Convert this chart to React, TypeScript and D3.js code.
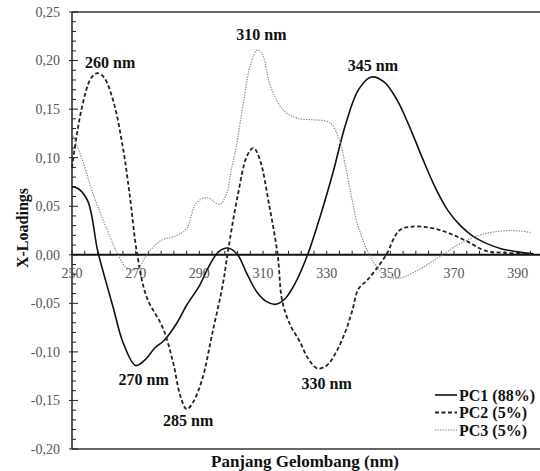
import React from "react";
import * as d3 from "d3";

const W = 540, H = 471;
const M = { left: 72, top: 12, right: 540, bottom: 449 };

const xDomain = [250, 397];
const yDomain = [-0.2, 0.25];

const xTickLabels = [250, 270, 290, 310, 330, 350, 370, 390];
const yTickLabels = [-0.2, -0.15, -0.1, -0.05, 0, 0.05, 0.1, 0.15, 0.2, 0.25];

const pc1Nm = [250, 252, 255, 258, 260, 263, 266, 270, 273, 276, 279, 283, 286, 290, 293, 296, 299, 302, 305, 308, 311, 314, 317, 320, 324, 328, 332, 336, 340, 344, 348, 352, 356, 360, 364, 368, 372, 376, 380, 385, 390, 395];
const pc1Val = [0.070, 0.068, 0.055, 0.005, -0.020, -0.055, -0.090, -0.114, -0.108, -0.096, -0.088, -0.070, -0.052, -0.032, -0.012, 0.003, 0.007, 0.000, -0.020, -0.038, -0.048, -0.051, -0.045, -0.030, 0.000, 0.040, 0.085, 0.135, 0.170, 0.183, 0.178, 0.160, 0.132, 0.100, 0.070, 0.046, 0.030, 0.019, 0.012, 0.006, 0.003, 0.001];

const pc2Nm = [250, 253, 256, 258, 260, 263, 266, 268, 270.5, 273.5, 278.5, 281.7, 284, 286, 288, 291, 294, 297.4, 299, 302, 305, 307, 309, 312, 314.6, 316, 318.5, 321.5, 324, 327, 330, 333, 336, 338, 340, 342.5, 345.5, 348.7, 352.8, 357, 362, 366, 370, 374, 380, 386, 394];
const pc2Val = [0.090, 0.150, 0.182, 0.187, 0.183, 0.158, 0.110, 0.065, 0.000, -0.044, -0.075, -0.110, -0.145, -0.159, -0.152, -0.127, -0.082, -0.030, 0.004, 0.060, 0.102, 0.110, 0.098, 0.050, 0.000, -0.047, -0.072, -0.089, -0.106, -0.117, -0.114, -0.100, -0.078, -0.058, -0.035, -0.027, -0.015, 0.000, 0.025, 0.029, 0.028, 0.025, 0.020, 0.014, 0.004, 0.002, 0.001];

const pc3Nm = [250, 253, 256.6, 262, 264.5, 267, 270.4, 273.5, 277.6, 283, 286, 289, 292.3, 296.4, 298.6, 300, 301.5, 304, 306, 308.3, 310, 312, 315, 317.4, 321.5, 326, 331, 334, 336, 338, 340, 344.4, 348.7, 352.8, 358, 365, 371.6, 378.8, 388, 394];
const pc3Val = [0.125, 0.100, 0.063, 0.018, 0.000, -0.013, -0.015, 0.000, 0.014, 0.020, 0.027, 0.053, 0.059, 0.052, 0.063, 0.087, 0.110, 0.160, 0.195, 0.211, 0.205, 0.177, 0.155, 0.146, 0.140, 0.139, 0.136, 0.118, 0.090, 0.056, 0.028, -0.006, -0.022, -0.024, -0.017, -0.003, 0.011, 0.021, 0.025, 0.023];

const seriesNames = ["PC1 (88%)", "PC2 (5%)", "PC3 (5%)"];

const peakLabels = ["260 nm", "310 nm", "345 nm", "270 nm", "285 nm", "330 nm"];
const peakNm = [262, 309.5, 344.5, 272.5, 286.5, 330];
const peakVal = [0.198, 0.227, 0.195, -0.128, -0.171, -0.132];

const FONT = "'Liberation Serif', 'Times New Roman', serif";

export default function App() {
  const x = d3.scaleLinear().domain(xDomain).range([M.left, M.right]);
  const y = d3.scaleLinear().domain(yDomain).range([M.bottom, M.top]);
  const line = d3
    .line<[number, number]>()
    .x((d) => x(d[0]))
    .y((d) => y(d[1]))
    .curve(d3.curveCatmullRom.alpha(0.5));

  const toPts = (a: number[], b: number[]) => a.map((v, i) => [v, b[i]] as [number, number]);

  const series = [
    { pts: toPts(pc1Nm, pc1Val), stroke: "#111", width: 1.6, dash: "none" },
    { pts: toPts(pc2Nm, pc2Val), stroke: "#222", width: 1.8, dash: "4,2.5" },
    { pts: toPts(pc3Nm, pc3Val), stroke: "#888", width: 1.2, dash: "1.3,1.3" },
  ];

  const xMinor = d3.range(250, 397, 4);
  const yMinor = d3.range(-20, 26, 1).map((v) => v / 100);
  const y0 = y(0);

  return (
    <svg width={W} height={H} style={{ position: "absolute", left: 0, top: 0, background: "#fff" }}>
      <line x1={M.left} x2={M.right} y1={M.top} y2={M.top} stroke="#666" strokeWidth={2} />
      <line x1={M.left} x2={M.right} y1={M.bottom} y2={M.bottom} stroke="#666" strokeWidth={2} />
      <line x1={M.left} x2={M.left} y1={M.top} y2={M.bottom} stroke="#222" strokeWidth={1.5} />

      {yMinor.map((v, i) => {
        const major = Math.round(v * 100) % 5 === 0;
        return (
          <line key={"ym" + i} x1={major ? M.left - 3 : M.left} x2={M.left + (major ? 6 : 4)} y1={y(v)} y2={y(v)} stroke="#222" strokeWidth={1} />
        );
      })}
      {yTickLabels.map((v, i) => (
        <text key={"yl" + i} x={60} y={y(v)} dy="0.35em" textAnchor="end" fontFamily={FONT} fontSize={14} fill="#555">
          {v.toFixed(2).replace(".", ",")}
        </text>
      ))}

      <line x1={M.left} x2={M.right} y1={y0} y2={y0} stroke="#111" strokeWidth={2} />
      {xMinor.map((v, i) => (
        <line key={"xm" + i} x1={x(v)} x2={x(v)} y1={y0} y2={y0 - 4} stroke="#222" strokeWidth={1} />
      ))}
      {xTickLabels.map((v, i) => (
        <text key={"xl" + i} x={x(v)} y={y0 + 18} dy="0.35em" textAnchor="middle" fontFamily={FONT} fontSize={14} fill="#555">
          {v}
        </text>
      ))}

      {series.map((s, i) => (
        <path key={"s" + i} d={line(s.pts) || ""} fill="none" stroke={s.stroke} strokeWidth={s.width} strokeDasharray={s.dash} />
      ))}

      {peakLabels.map((t, i) => (
        <text key={"p" + i} x={x(peakNm[i])} y={y(peakVal[i])} dy="0.35em" textAnchor="middle" fontFamily={FONT} fontSize={16} fontWeight="bold" fill="#111">
          {t}
        </text>
      ))}

      {seriesNames.map((n, i) => {
        const ly = 395 + i * 17.5;
        const s = series[i];
        return (
          <g key={"lg" + i}>
            <line x1={435} x2={457} y1={ly} y2={ly} stroke={s.stroke} strokeWidth={s.width} strokeDasharray={s.dash} />
            <text x={459} y={ly} dy="0.35em" fontFamily={FONT} fontSize={16} fontWeight="bold" fill="#111">
              {n}
            </text>
          </g>
        );
      })}

      <text x={305} y={461} dy="0.35em" textAnchor="middle" fontFamily={FONT} fontSize={17} fontWeight="bold" fill="#111">
        Panjang Gelombang (nm)
      </text>
      <text transform={`translate(22,228) rotate(-90)`} dy="0.35em" textAnchor="middle" fontFamily={FONT} fontSize={16} fontWeight="bold" fill="#111">
        X-Loadings
      </text>
    </svg>
  );
}
